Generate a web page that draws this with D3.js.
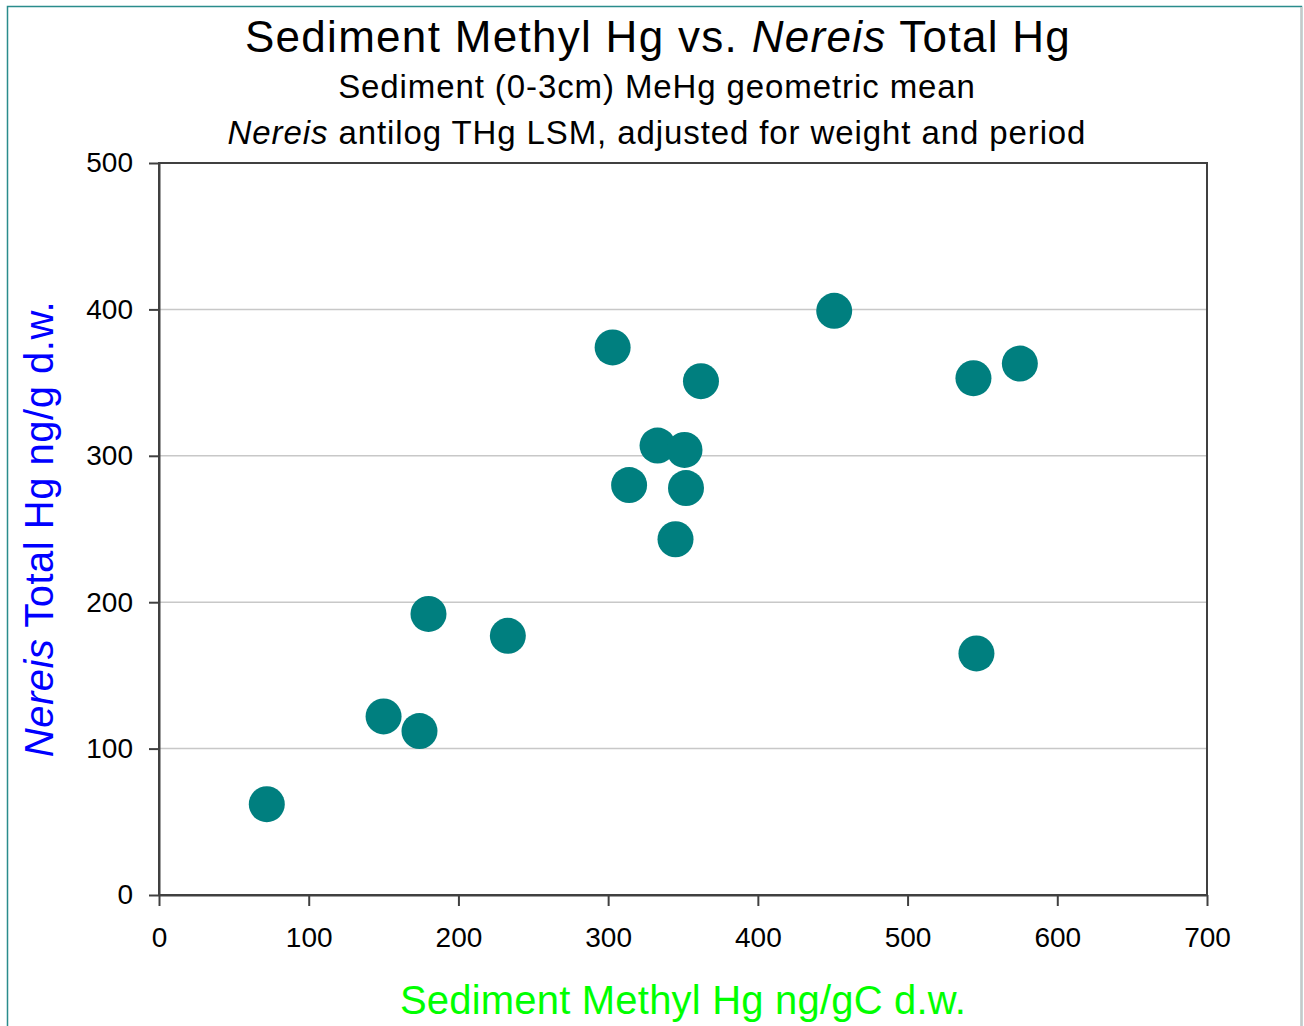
<!DOCTYPE html>
<html><head><meta charset="utf-8">
<script src="https://cdn.jsdelivr.net/npm/d3@7"></script>
<style>html,body{margin:0;padding:0;background:#fff;}svg{display:block;}</style>
</head><body>
<svg id="chart" width="1304" height="1026"></svg>
<script>
const sedimentMeHg = [72, 150, 174, 180, 233, 303, 314, 333, 351, 352, 345, 362, 451, 544, 575, 546];
const nereisTHg   = [62, 122, 112, 192, 177, 374, 280, 307, 304, 278, 243, 351, 399, 353, 363, 165];
const xTicks = [0, 100, 200, 300, 400, 500, 600, 700];
const yTicks = [0, 100, 200, 300, 400, 500];

const svg = d3.select("#chart");
const font = "'Liberation Sans', Arial, sans-serif";
const L = 159, R = 1207, T = 163, B = 895;
const x = d3.scaleLinear().domain([0, 700]).range([L, R]);
const y = d3.scaleLinear().domain([0, 500]).range([B, T]);

// outer border
svg.append("rect").attr("x", 7.5).attr("y", 6.5).attr("width", 1294).attr("height", 1030)
  .attr("fill", "#fff").attr("stroke", "#2a8c8c").attr("stroke-width", 1.5);
svg.append("line").attr("x1", 1301.5).attr("x2", 1301.5).attr("y1", 7).attr("y2", 1026)
  .attr("stroke", "#c8c8c8").attr("stroke-width", 2);

// gridlines
svg.append("g").selectAll("line").data(yTicks.filter(d => d > 0 && d < 500)).join("line")
  .attr("x1", L).attr("x2", R).attr("y1", d => y(d)).attr("y2", d => y(d))
  .attr("stroke", "#c8c8c8").attr("stroke-width", 1.5);

// frame
svg.append("rect").attr("x", L).attr("y", T).attr("width", R - L).attr("height", B - T)
  .attr("fill", "none").attr("stroke", "#404040").attr("stroke-width", 2);

// axes
const xAxis = d3.axisBottom(x).tickValues(xTicks).tickSize(11).tickPadding(21).tickSizeOuter(0);
const gx = svg.append("g").attr("transform", `translate(0,${B})`).call(xAxis);
gx.select(".domain").attr("stroke", "#404040").attr("stroke-width", 2);
gx.selectAll(".tick line").attr("stroke", "#404040").attr("stroke-width", 2);
gx.selectAll("text").attr("font-family", font).attr("font-size", 28).attr("fill", "#000");

const yAxis = d3.axisLeft(y).tickValues(yTicks).tickSize(10).tickPadding(16).tickSizeOuter(0);
const gy = svg.append("g").attr("transform", `translate(${L},0)`).call(yAxis);
gy.select(".domain").attr("stroke", "#404040").attr("stroke-width", 2);
gy.selectAll(".tick line").attr("stroke", "#404040").attr("stroke-width", 2);
gy.selectAll("text").attr("font-family", font).attr("font-size", 28).attr("fill", "#000");

// points
svg.append("g").selectAll("circle").data(sedimentMeHg.map((v, i) => [v, nereisTHg[i]])).join("circle")
  .attr("cx", d => x(d[0])).attr("cy", d => y(d[1])).attr("r", 18)
  .attr("fill", "#007f7f");

// titles
const t1 = svg.append("text").attr("x", 658).attr("y", 52).attr("text-anchor", "middle")
  .attr("font-family", font).attr("font-size", 44).attr("letter-spacing", 1.3).attr("fill", "#000");
t1.append("tspan").text("Sediment Methyl Hg vs. ");
t1.append("tspan").attr("font-style", "italic").text("Nereis");
t1.append("tspan").text(" Total Hg");

svg.append("text").attr("x", 657).attr("y", 98).attr("text-anchor", "middle")
  .attr("font-family", font).attr("font-size", 33).attr("letter-spacing", 0.9).attr("fill", "#000")
  .text("Sediment (0-3cm) MeHg geometric mean");

const t3 = svg.append("text").attr("x", 657).attr("y", 144).attr("text-anchor", "middle")
  .attr("font-family", font).attr("font-size", 33).attr("letter-spacing", 0.9).attr("fill", "#000");
t3.append("tspan").attr("font-style", "italic").text("Nereis");
t3.append("tspan").text(" antilog THg LSM, adjusted for weight and period");

// axis titles
svg.append("text").attr("x", 683).attr("y", 1014).attr("text-anchor", "middle")
  .attr("font-family", font).attr("font-size", 40).attr("letter-spacing", 0.2).attr("fill", "#00ff00")
  .text("Sediment Methyl Hg ng/gC d.w.");

const yt = svg.append("text").attr("transform", "translate(53,529) rotate(-90)").attr("text-anchor", "middle")
  .attr("font-family", font).attr("font-size", 40).attr("letter-spacing", 0.5).attr("fill", "#0000ff");
yt.append("tspan").attr("font-style", "italic").text("Nereis");
yt.append("tspan").text(" Total Hg ng/g d.w.");
</script>
</body></html>
